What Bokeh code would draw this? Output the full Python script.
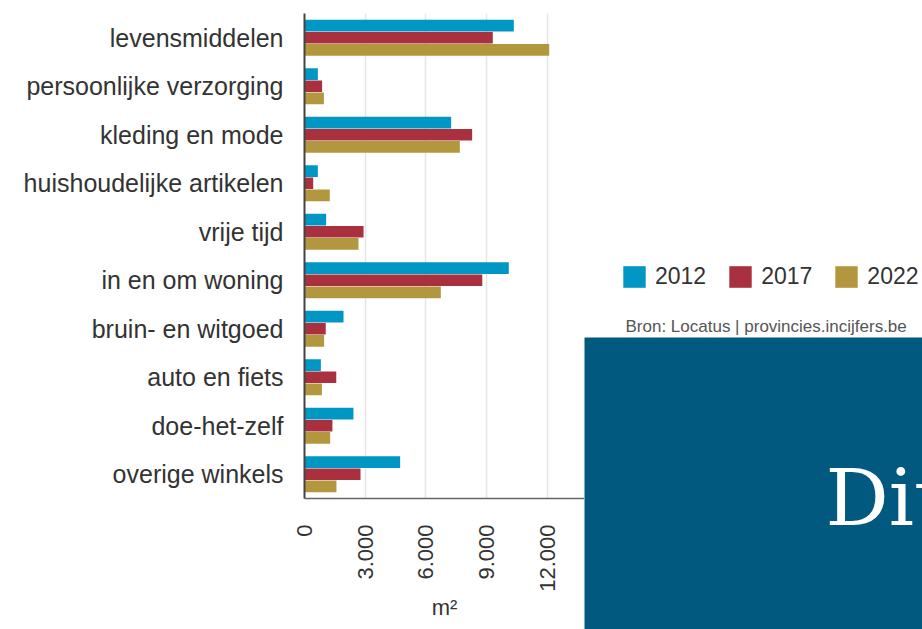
import math
from bokeh.plotting import figure
from bokeh.layouts import row, column
from bokeh.models import (FactorRange, Range1d, FixedTicker, Legend, LegendItem,
                          Label, ColumnDataSource)
from bokeh.transform import dodge
from bokeh.embed import file_html
from bokeh.resources import INLINE

# ---------------- data ----------------
categories = ["levensmiddelen", "persoonlijke verzorging", "kleding en mode",
              "huishoudelijke artikelen", "vrije tijd", "in en om woning",
              "bruin- en witgoed", "auto en fiets", "doe-het-zelf", "overige winkels"]
years = ["2012", "2017", "2022"]
v2012 = [10350, 660, 7250, 660, 1070, 10100, 1930, 810, 2420, 4730]
v2017 = [9310, 870, 8290, 430, 2920, 8790, 1050, 1570, 1380, 2770]
v2022 = [12100, 960, 7680, 1250, 2670, 6740, 970, 860, 1270, 1580]
x_ticks = [0, 3000, 6000, 9000, 12000]
x_tick_labels = ["0", "3.000", "6.000", "9.000", "12.000"]
x_axis_title = "m²"
source_text = "Bron: Locatus | provincies.incijfers.be"
banner_text = "Dit"

# ---------------- layout (page pixels) ----------------
TOTAL_W, TOTAL_H = 922, 629
CHART_W = 584                    # chart column width; right column holds legend + banner
FRAME_L, FRAME_T, FRAME_B = 304, 13, 498
TOP_H = 337                      # height of legend/source panel
X_END = 13845                    # 12.000 lands at ~547 px

colors = ["#0097C4", "#A8303F", "#B3973E"]
FONT = "Liberation Sans"
BANNER = "#02597F"

src = ColumnDataSource(dict(cat=categories, y2012=v2012, y2017=v2017, y2022=v2022))

# ---------------- chart ----------------
p = figure(width=CHART_W, height=TOTAL_H,
           y_range=FactorRange(factors=list(reversed(categories))),
           x_range=Range1d(0, X_END),
           output_backend="svg", toolbar_location=None,
           min_border_left=FRAME_L, min_border_right=0,
           min_border_top=FRAME_T, min_border_bottom=TOTAL_H - FRAME_B)
p.outline_line_color = None
p.background_fill_color = "white"
p.border_fill_color = "white"

offsets = [0.25, 0.0, -0.25]
renderers = []
for yr, col, off in zip(years, colors, offsets):
    r = p.hbar(y=dodge("cat", off, range=p.y_range), right="y" + yr, left=0,
               height=0.24, source=src, fill_color=col, line_color=None)
    renderers.append(r)

p.xaxis.ticker = FixedTicker(ticks=x_ticks)
p.xaxis.major_label_overrides = {t: l for t, l in zip(x_ticks, x_tick_labels)}
p.xaxis.major_label_orientation = math.pi / 2
p.xaxis.major_label_text_font = FONT
p.xaxis.major_label_text_font_size = "22px"
p.xaxis.major_label_text_color = "#333333"
p.xaxis.major_label_standoff = 20
p.xaxis.major_tick_line_color = None
p.xaxis.minor_tick_line_color = None
p.xaxis.axis_line_color = "#666666"
p.xaxis.axis_line_width = 1.5
p.xaxis.axis_label = x_axis_title
p.xaxis.axis_label_text_font = FONT
p.xaxis.axis_label_text_font_size = "22px"
p.xaxis.axis_label_text_font_style = "normal"
p.xaxis.axis_label_text_color = "#333333"
p.xaxis.axis_label_standoff = 0

p.yaxis.major_label_text_font = FONT
p.yaxis.major_label_text_font_size = "25px"
p.yaxis.major_label_text_color = "#333333"
p.yaxis.major_label_standoff = 21
p.yaxis.major_tick_out = 0
p.yaxis.major_tick_in = 0
p.yaxis.major_tick_line_color = None
p.yaxis.minor_tick_line_color = None
p.yaxis.axis_line_color = "#444444"
p.yaxis.axis_line_width = 2

p.xgrid.ticker = FixedTicker(ticks=x_ticks)
p.xgrid.grid_line_color = "#e6e6e6"
p.xgrid.grid_line_width = 1.5
p.ygrid.grid_line_color = None

# ---------------- legend + source panel ----------------
RIGHT_W = TOTAL_W - CHART_W
top = figure(width=RIGHT_W, height=TOP_H,
             x_range=Range1d(0, RIGHT_W), y_range=Range1d(0, TOP_H),
             output_backend="svg", toolbar_location=None,
             x_axis_location=None, y_axis_location=None,
             min_border_left=0, min_border_right=0, min_border_top=0, min_border_bottom=0)
top.outline_line_color = None
top.grid.visible = False

# legend keys reuse the same data/colour specs (hidden renderers in this panel)
key_renderers = []
for yr, col, off in zip(years, colors, offsets):
    kr = top.hbar(y=dodge("cat", off, range=p.y_range), right="y" + yr, left=0,
                  height=0.24, source=src, fill_color=col, line_color=None, visible=False)
    key_renderers.append(kr)

legend = Legend(items=[LegendItem(label=yr, renderers=[r]) for yr, r in zip(years, key_renderers)],
                orientation="horizontal", location=(620 - CHART_W, TOP_H - 290),
                glyph_width=28, glyph_height=27, label_standoff=7, spacing=20,
                padding=0, margin=0, border_line_color=None, background_fill_alpha=0,
                inactive_fill_alpha=0,
                label_text_font=FONT, label_text_font_size="23px",
                label_text_color="#333333")
top.add_layout(legend)

top.add_layout(Label(x=625 - CHART_W, y=TOP_H - 326, text=source_text,
                     text_font=FONT, text_font_size="17px", text_color="#555555",
                     text_baseline="alphabetic"))

# ---------------- banner ----------------
BOX_H = TOTAL_H - TOP_H
box = figure(width=RIGHT_W, height=BOX_H,
             x_range=Range1d(0, RIGHT_W), y_range=Range1d(0, BOX_H),
             output_backend="svg", toolbar_location=None,
             x_axis_location=None, y_axis_location=None,
             min_border_left=0, min_border_right=0, min_border_top=0, min_border_bottom=0)
box.outline_line_color = None
box.grid.visible = False
box.background_fill_color = BANNER
box.border_fill_color = BANNER
box.add_layout(Label(x=825 - CHART_W, y=TOTAL_H - 497, text=banner_text,
                     text_font="DejaVu Serif", text_font_size="79px", text_color="white",
                     text_baseline="alphabetic"))

layout = row(p, column(top, box, spacing=0), spacing=0)
open("out.html", "w").write(file_html(layout, INLINE))
